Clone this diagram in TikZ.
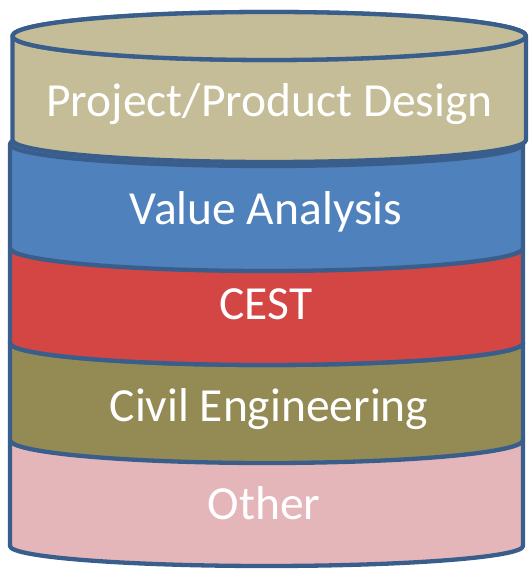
\documentclass[tikz,border=0pt]{standalone}
\usepackage{fontspec}
\setmainfont{Carlito}
\definecolor{rim}{HTML}{3A5E8C}
\definecolor{tanc}{HTML}{C4BD97}
\definecolor{bluec}{HTML}{4F81BD}
\definecolor{redc}{HTML}{D34644}
\definecolor{olivec}{HTML}{948A54}
\definecolor{pinkc}{HTML}{E4B6B9}
\tikzset{
  layer/.style={draw=rim, line width=4.3pt, line join=round},
  lbl/.style={text=white, font=\fontsize{47.5}{52}\selectfont, anchor=base, inner sep=0pt}
}
% #1 fill, #2 left x, #3 right x, #4 top y, #5 bottom y, #6 top ry, #7 bottom ry
\newcommand{\canlayer}[7]{%
  \pgfmathsetmacro{\rxx}{(#3-#2)/2}%
  \path[layer, fill=#1] (#2pt,#4pt) -- (#2pt,#5pt)
     arc[start angle=180, end angle=360, x radius=\rxx pt, y radius=#7pt]
     -- (#3pt,#4pt)
     arc[start angle=0, end angle=180, x radius=\rxx pt, y radius=#6pt] -- cycle;
  \path[layer] (#2pt,#4pt) arc[start angle=180, end angle=360, x radius=\rxx pt, y radius=#6pt];
}
\begin{document}
\begin{tikzpicture}
\useasboundingbox (0,0) rectangle (528pt,569pt);
% bottom to top
\canlayer{pinkc}{10}{523}{129}{23}{22}{20}
\canlayer{olivec}{10}{523}{226}{129}{22}{23}
\canlayer{redc}{10}{523}{321}{226}{22}{22}
\canlayer{bluec}{10}{523}{425}{321}{22}{23}
\canlayer{tanc}{12.5}{526}{533}{429}{24}{22}
% top face outline of the top layer
\path[layer, fill=tanc] (269.25pt,533pt) ellipse[x radius=256.75pt, y radius=24pt];
\node[lbl] (pd) at (269.5pt,452pt) {Project/Product Design};
\node[lbl] (va) at (266pt,344pt) {Value Analysis};
\node[lbl] (ce) at (266pt,249pt) {CEST};
\node[lbl] (cv) at (269pt,147pt) {Civil Engineering};
\node[lbl] (ot) at (264pt,49pt) {Other};
\end{tikzpicture}
\end{document}
